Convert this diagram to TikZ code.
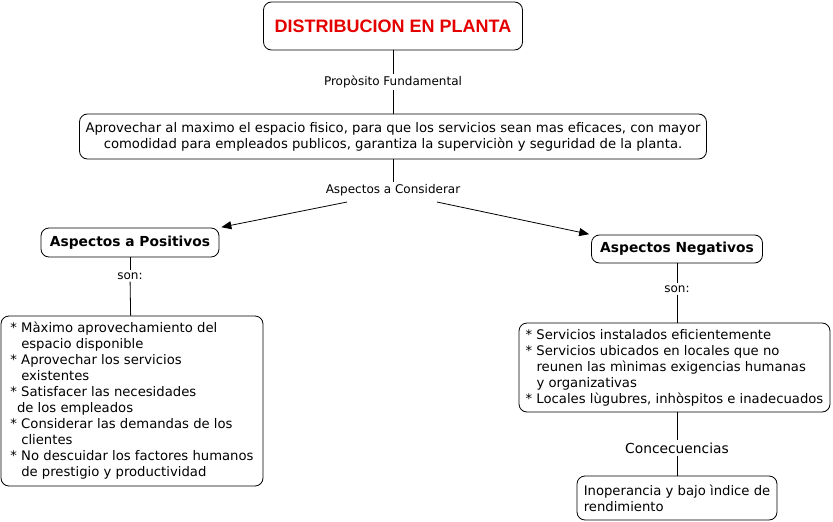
\documentclass[tikz,border=0pt]{standalone}
\usepackage{fontspec}
\setmainfont{DejaVu Sans}
\newfontfamily\titlefont{Liberation Sans}
\usetikzlibrary{arrows.meta, positioning}

\begin{document}
\begin{tikzpicture}
% style
	[x=1pt, y=-1pt,
	concept/.style={rectangle, rounded corners=8pt, draw=black, line width=0.8pt, inner sep=2pt, font=\fontsize{13.2}{16}\selectfont},
	heading/.style={concept, font=\bfseries\fontsize{13.8}{16}\selectfont},
	link/.style={inner sep=2pt, font=\fontsize{12}{14}\selectfont},
	arrow/.style={-{Triangle[length=10pt, width=8pt]}, shorten >=2pt}]

	\useasboundingbox (0,0) rectangle (833,522);

	% top
	\node [concept, minimum width=259, minimum height=48, font=\titlefont\bfseries\fontsize{18}{20}\selectfont, text=red!90!black] (title) at (393,26) {DISTRIBUCION EN PLANTA};
	\node [link] (proposito) at (393,82) {Propòsito Fundamental};
	\node [concept, minimum width=627, minimum height=45, align=center] (objetivo) at (393,136.5) {Aprovechar al maximo el espacio fisico, para que los servicios sean mas eficaces, con mayor\\comodidad para empleados publicos, garantiza la superviciòn y seguridad de la planta.};
	\node [link] (considerar) at (393,190) {Aspectos a Considerar};

	% positivos
	\node [heading, minimum width=178, minimum height=29] (positivos) at (130,242.5) {Aspectos a Positivos};
	\node [link] (sonpos) at (130,276) {son:};
	\node [concept, minimum width=262, minimum height=170, align=left] (listapos) at (132,401) {* Màximo aprovechamiento del\\\phantom{* }espacio disponible\\* Aprovechar los servicios\\\phantom{* }existentes\\* Satisfacer las necesidades\\\phantom{*}de los empleados\\* Considerar las demandas de los\\\phantom{* }clientes\\* No descuidar los factores humanos\\\phantom{* }de prestigio y productividad};

	% negativos
	\node [heading, minimum width=171, minimum height=28] (negativos) at (677,249) {Aspectos Negativos};
	\node [link] (sonneg) at (677,289) {son:};
	\node [concept, minimum width=311, minimum height=89, align=left] (listaneg) at (674.5,367.5) {* Servicios instalados eficientemente\\* Servicios ubicados en locales que no\\\phantom{* }reunen las mìnimas exigencias humanas\\\phantom{* }y organizativas\\* Locales lùgubres, inhòspitos e inadecuados};
	\node [link, font=\fontsize{13.8}{16}\selectfont] (consecuencias) at (677,448) {Concecuencias};
	\node [concept, minimum width=200, minimum height=44, align=left] (rendimiento) at (677,498) {Inoperancia y bajo ìndice de\\rendimiento};

	\path[line width=0.8pt] (title) edge (proposito)
	            (proposito) edge (objetivo)
	            (objetivo) edge (considerar)
	            (positivos) edge (sonpos)
	            (sonpos) edge (listapos)
	            (negativos) edge (sonneg)
	            (sonneg) edge (sonneg |- listaneg.north)
	            (consecuencias |- listaneg.south) edge (consecuencias)
	            (consecuencias) edge (rendimiento);
	\draw[arrow, line width=0.8pt] ([xshift=-46pt, yshift=-4pt]considerar.south) -- (positivos.north east);
	\draw[arrow, line width=0.8pt] ([xshift=44pt, yshift=-4pt]considerar.south) -- (negativos.north west);
\end{tikzpicture}
\end{document}
